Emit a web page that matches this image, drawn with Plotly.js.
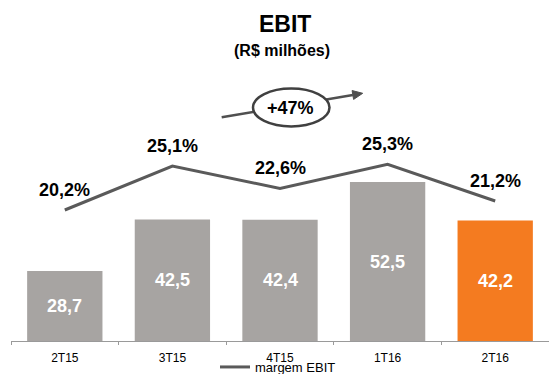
<!DOCTYPE html>
<html>
<head>
<meta charset="utf-8">
<script src="https://cdn.plot.ly/plotly-3.0.1.min.js"></script>
<style>html,body{margin:0;padding:0;background:#fff;}#chart{width:549px;height:374px;}</style>
</head>
<body>
<div id="chart"></div>
<script>
var categories = ["2T15", "3T15", "4T15", "1T16", "2T16"];
var ebit = [28.7, 42.5, 42.4, 52.5, 42.2];
var ebitLabels = ["28,7", "42,5", "42,4", "52,5", "42,2"];
var margin = [20.2, 25.1, 22.6, 25.3, 21.2];
var marginLabels = ["20,2%", "25,1%", "22,6%", "25,3%", "21,2%"];
var growthLabel = "+47%";
var barColors = ["#A7A4A2", "#A7A4A2", "#A7A4A2", "#A7A4A2", "#F47B20"];

var FONT = "Liberation Sans, Arial, sans-serif";
var L = 11, R = 0, T = 41, B = 33, W = 549, H = 374;
var pw = W - L - R, ph = H - T - B;
function px(x){ return (x - L) / pw; }
function py(y){ return (H - B - y) / ph; }
var yRange = [10, 90.2];

var bars = {
  type: "bar", x: categories, y: ebit,
  marker: {color: barColors}, width: 0.7,
  hoverinfo: "none", showlegend: false
};
var line = {
  type: "scatter", mode: "lines", x: categories, y: margin, yaxis: "y2",
  name: "margem EBIT", line: {color: "#5A5A5A", width: 3},
  hoverinfo: "none", showlegend: true
};

var annotations = [];
ebit.forEach(function(v, i){
  annotations.push({x: categories[i], y: (v + yRange[0]) / 2, xref: "x", yref: "y", text: ebitLabels[i],
    showarrow: false, xanchor: "center", yanchor: "middle",
    font: {family: FONT, size: 18, color: "#fff", weight: "bold"}});
});
margin.forEach(function(v, i){
  annotations.push({x: categories[i], y: v, xref: "x", yref: "y2", text: marginLabels[i],
    showarrow: false, yshift: 20, xanchor: "center", yanchor: "middle",
    font: {family: FONT, size: 18, color: "#000", weight: "bold"}});
});
function paperText(x, y, text, size, family){
  annotations.push({xref: "paper", yref: "paper", x: px(x), y: py(y), text: text,
    showarrow: false, xanchor: "center", yanchor: "middle",
    font: {family: family || FONT, size: size, color: "#000", weight: "bold"}});
}
paperText(290, 107.5, growthLabel, 18);
paperText(285, 24, "EBIT", 23);
paperText(282, 50, "(R$ milhões)", 16);

// arrow geometry
var tx = 362.7, ty = 93.3, sx = 221.7, sy = 117.3;
var dx = tx - sx, dy = ty - sy, len = Math.sqrt(dx*dx + dy*dy);
var ux = dx/len, uy = dy/len, nx = -uy, ny = ux;
var hl = 10, hw = 4.5;
var bx = tx - hl*ux, by = ty - hl*uy;
var p1 = [bx + hw*nx, by + hw*ny], p2 = [bx - hw*nx, by - hw*ny];

var shapes = [
  {type: "line", xref: "paper", yref: "paper", x0: px(sx), y0: py(sy), x1: px(bx), y1: py(by),
   line: {color: "#505050", width: 2.5}, layer: "above"},
  {type: "path", xref: "paper", yref: "paper",
   path: "M" + px(tx) + "," + py(ty) + " L" + px(p1[0]) + "," + py(p1[1]) + " L" + px(p2[0]) + "," + py(p2[1]) + " Z",
   fillcolor: "#505050", line: {color: "#505050", width: 1}, layer: "above"},
  {type: "circle", xref: "paper", yref: "paper", x0: px(253), x1: px(329.5), y0: py(88.5), y1: py(126.5),
   fillcolor: "#ffffff", line: {color: "#404040", width: 2.5}, layer: "above"}
];

var layout = {
  width: W, height: H, margin: {l: L, r: R, t: T, b: B, pad: 0, autoexpand: false},
  paper_bgcolor: "#fff", plot_bgcolor: "#fff",
  font: {family: FONT, color: "#000"},
  bargap: 0.3,
  xaxis: {type: "category", showline: true, linecolor: "#9a9a9a", linewidth: 1,
    ticks: "outside", tickson: "boundaries", ticklen: 3, tickcolor: "#9a9a9a", ticklabelstandoff: 6,
    tickfont: {family: FONT, size: 12, color: "#000"}, showgrid: false, zeroline: false, fixedrange: true,
    automargin: false},
  yaxis: {range: yRange, visible: false, showgrid: false, zeroline: false},
  yaxis2: {range: [5.58, 39.06], overlaying: "y", side: "right", visible: false, showgrid: false, zeroline: false},
  showlegend: true,
  legend: {orientation: "h", x: px(215), y: py(352), xanchor: "left", yanchor: "top",
    font: {family: FONT, size: 13, color: "#000"}, bgcolor: "rgba(0,0,0,0)", borderwidth: 0},
  annotations: annotations, shapes: shapes
};

Plotly.newPlot("chart", [bars, line], layout, {displayModeBar: false, staticPlot: true});
</script>
</body>
</html>
